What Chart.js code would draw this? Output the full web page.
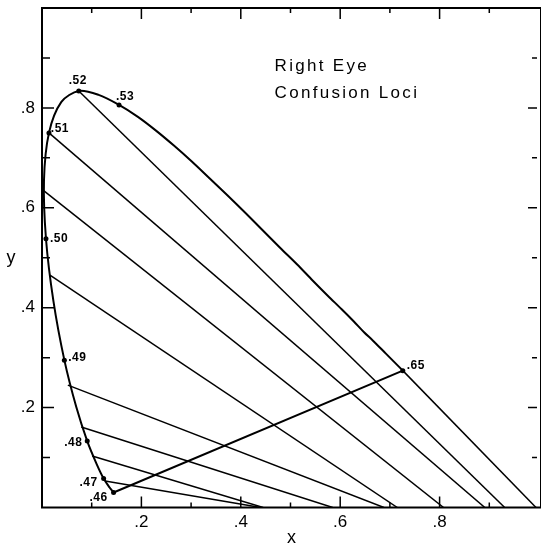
<!DOCTYPE html>
<html>
<head>
<meta charset="utf-8">
<script src="https://cdn.jsdelivr.net/npm/chart.js@4.4.0/dist/chart.umd.min.js"></script>
<style>
  html, body { margin: 0; padding: 0; background: #fff; }
  #wrap { width: 541px; height: 550px; }
</style>
</head>
<body>
<div id="wrap"><canvas id="chart-confusion"></canvas></div>
<script>
// spectral locus, 460 - 650 nm (5 nm steps to 610)
var locusX = [0.144, 0.136, 0.124, 0.110, 0.091, 0.069, 0.045, 0.023, 0.008, 0.004, 0.014, 0.039, 0.074,
              0.114, 0.155, 0.193, 0.230, 0.266, 0.302, 0.337, 0.373, 0.409, 0.444, 0.479, 0.513, 0.545,
              0.575, 0.603, 0.627, 0.648, 0.666, 0.692, 0.708, 0.719, 0.726];
var locusY = [0.030, 0.040, 0.058, 0.087, 0.133, 0.201, 0.295, 0.413, 0.538, 0.655, 0.750, 0.812, 0.834,
              0.826, 0.806, 0.782, 0.754, 0.724, 0.692, 0.659, 0.625, 0.590, 0.555, 0.520, 0.487, 0.454,
              0.424, 0.397, 0.373, 0.351, 0.334, 0.308, 0.292, 0.281, 0.274];

// marked wavelengths
var markLabels = [".46", ".47", ".48", ".49", ".50", ".51", ".52", ".53", ".65"];
var markX = [0.144, 0.124, 0.091, 0.045, 0.008, 0.014, 0.074, 0.155, 0.726];
var markY = [0.030, 0.058, 0.133, 0.295, 0.538, 0.750, 0.834, 0.806, 0.274];

// confusion loci: start on the locus, end on the x axis (y = 0)
var lociStartX = [0.074, 0.014, 0.0014, 0.016, 0.052, 0.079, 0.101, 0.127, 0.726];
var lociStartY = [0.834, 0.750, 0.636, 0.465, 0.245, 0.161, 0.103, 0.053, 0.274];
var lociEndX = [0.931, 0.891, 0.808, 0.715, 0.688, 0.585, 0.445, 0.440, 0.994];

// straight line .46 -> .65
var closeX = [0.144, 0.726];
var closeY = [0.030, 0.274];

var xTicks = [0.1, 0.2, 0.3, 0.4, 0.5, 0.6, 0.7, 0.8, 0.9];
var yTicks = [0.1, 0.2, 0.3, 0.4, 0.5, 0.6, 0.7, 0.8, 0.9];
var labelledTicks = [0.2, 0.4, 0.6, 0.8];

// label offsets in px from each marked point
var markOffsets = [[-15, 5], [-15, 4], [-14, 2], [13, -2], [13, 0], [11, -4], [-1, -10], [6, -8], [13, -5]];

function isLabelled(v) {
  return labelledTicks.some(function (t) { return Math.abs(t - v) < 1e-6; });
}

function pts(xs, ys) {
  return xs.map(function (x, i) { return { x: x, y: ys[i] }; });
}

var datasets = [];
datasets.push({
  data: pts(locusX, locusY),
  showLine: true,
  borderColor: "#000",
  borderWidth: 2,
  tension: 0.3,
  pointRadius: 0,
});
datasets.push({
  data: pts(closeX, closeY),
  showLine: true,
  borderColor: "#000",
  borderWidth: 2,
  pointRadius: 0,
});
lociStartX.forEach(function (x0, i) {
  datasets.push({
    data: [{ x: x0, y: lociStartY[i] }, { x: lociEndX[i], y: 0 }],
    showLine: true,
    borderColor: "#000",
    borderWidth: 1.5,
    pointRadius: 0,
  });
});
datasets.push({
  data: pts(markX, markY),
  showLine: false,
  pointRadius: 2.5,
  pointBackgroundColor: "#000",
  pointBorderWidth: 0,
});
var markIndex = datasets.length - 1;

var frame = {
  id: "frame",
  beforeDatasetsDraw: function (chart) {
    var c = chart.ctx, a = chart.chartArea;
    var sx = chart.scales.x, sy = chart.scales.y;
    c.save();
    c.strokeStyle = "#000";
    c.lineWidth = 2;
    c.strokeRect(a.left, a.top, a.right - a.left + 4, a.bottom - a.top);
    c.lineWidth = 1.5;
    c.beginPath();
    xTicks.forEach(function (v) {
      var px = sx.getPixelForValue(v);
      var len = isLabelled(v) ? 11 : 5;
      c.moveTo(px, a.bottom); c.lineTo(px, a.bottom - len);
      c.moveTo(px, a.top); c.lineTo(px, a.top + len);
    });
    yTicks.forEach(function (v) {
      var py = sy.getPixelForValue(v);
      var len = isLabelled(v) ? 9 : 5;
      c.moveTo(a.left, py); c.lineTo(a.left + len + 3, py);
      c.moveTo(a.right, py); c.lineTo(a.right - len, py);
    });
    c.stroke();
    c.restore();
  },
  afterDatasetsDraw: function (chart) {
    var c = chart.ctx, a = chart.chartArea;
    var sx = chart.scales.x, sy = chart.scales.y;
    var meta = chart.getDatasetMeta(markIndex);
    c.save();
    c.fillStyle = "#000";
    c.textAlign = "center";
    c.textBaseline = "middle";
    c.font = "bold 12px 'Liberation Sans', Arial, sans-serif";
    c.letterSpacing = "0.5px";
    meta.data.forEach(function (el, i) {
      c.fillText(markLabels[i], el.x + markOffsets[i][0], el.y + markOffsets[i][1]);
    });
    c.textAlign = "left";
    c.font = "17px 'Liberation Sans', Arial, sans-serif";
    c.letterSpacing = "2.3px";
    c.fillText("Right Eye", sx.getPixelForValue(0.468), sy.getPixelForValue(0.884));
    c.fillText("Confusion Loci", sx.getPixelForValue(0.468), sy.getPixelForValue(0.83));
    c.letterSpacing = "0px";
    c.textAlign = "center";
    c.font = "18px 'Liberation Sans', Arial, sans-serif";
    c.fillText("y", 11, sy.getPixelForValue(0.5));
    c.fillText("x", (a.left + a.right) / 2 + 2, 538);
    c.restore();
  },
};

var tickFont = { size: 17, family: "'Liberation Sans', Arial, sans-serif" };

new Chart(document.getElementById("chart-confusion").getContext("2d"), {
  type: "scatter",
  data: { datasets: datasets },
  options: {
    responsive: true,
    maintainAspectRatio: false,
    animation: false,
    layout: { padding: { top: 8, right: 0, left: 0, bottom: 0 } },
    plugins: {
      legend: { display: false },
      tooltip: { enabled: false },
    },
    scales: {
      x: {
        type: "linear",
        min: 0,
        max: 0.996,
        afterBuildTicks: function (s) { s.ticks = xTicks.map(function (v) { return { value: v }; }); },
        afterFit: function (s) { s.height = 42.5; s.paddingLeft = 0; s.paddingRight = 0; },
        grid: { display: false, drawTicks: false },
        border: { display: false },
        ticks: {
          padding: 5,
          autoSkip: false,
          maxRotation: 0,
          color: "#000",
          font: tickFont,
          callback: function (v) { return isLabelled(v) ? "." + Math.round(v * 10) : ""; },
        },
      },
      y: {
        type: "linear",
        min: 0,
        max: 1,
        afterBuildTicks: function (s) { s.ticks = yTicks.map(function (v) { return { value: v }; }); },
        afterFit: function (s) { s.width = 42; s.paddingTop = 0; s.paddingBottom = 0; },
        grid: { display: false, drawTicks: false },
        border: { display: false },
        ticks: {
          padding: 7,
          autoSkip: false,
          color: "#000",
          font: tickFont,
          callback: function (v) { return isLabelled(v) ? "." + Math.round(v * 10) : ""; },
        },
      },
    },
  },
  plugins: [frame],
});
</script>
</body>
</html>
